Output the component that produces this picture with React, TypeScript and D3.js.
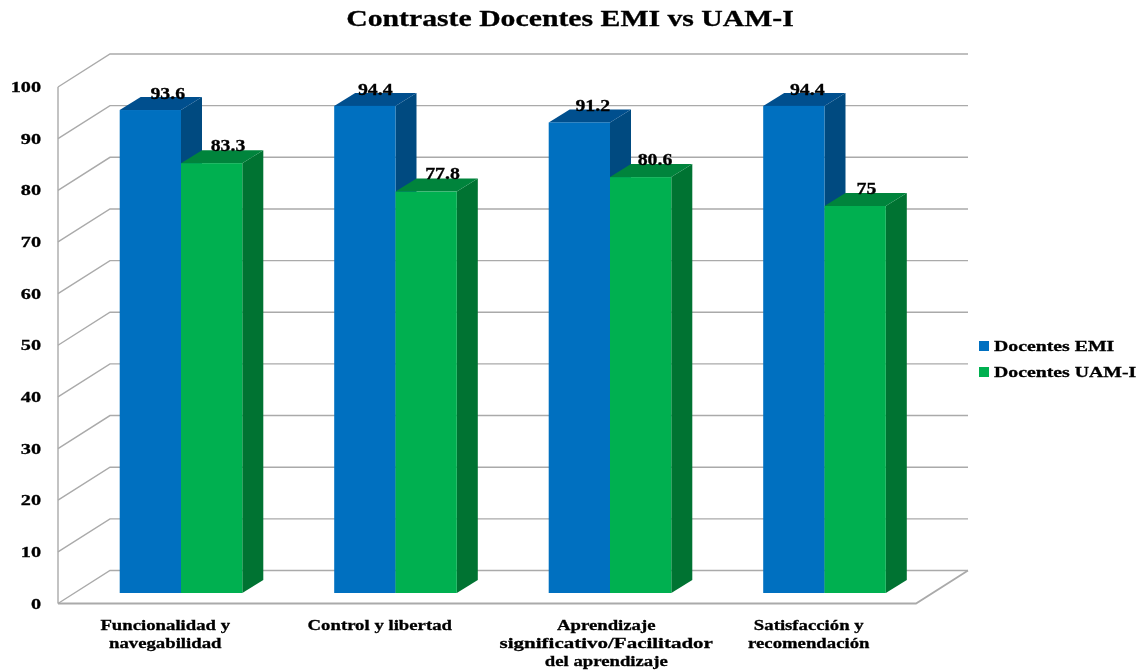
import React from "react";
import * as d3 from "d3";

const title = "Contraste Docentes EMI vs UAM-I";
const seriesNames = ["Docentes EMI", "Docentes UAM-I"];
const categories = [
  ["Funcionalidad y", "navegabilidad"],
  ["Control y libertad"],
  ["Aprendizaje", "significativo/Facilitador", "del aprendizaje"],
  ["Satisfacción y", "recomendación"],
];
const docentesEMI = [93.6, 94.4, 91.2, 94.4];
const docentesUAM = [83.3, 77.8, 80.6, 75];
const valueLabelsEMI = ["93.6", "94.4", "91.2", "94.4"];
const valueLabelsUAM = ["83.3", "77.8", "80.6", "75"];
const yTicks = [0, 10, 20, 30, 40, 50, 60, 70, 80, 90, 100];
const labelNudge = [0, 0, 12, 0];
const labelOffsetEMI = [48, 41, 44, 44];
const labelOffsetUAM = [47, 47, 45, 42];

const W = 1147, H = 671;
const wallDx = 52, wallDy = -33;
const barDx = 21, barDy = -13;
const font = "'Liberation Serif', serif";

const yFront = d3.scaleLinear().domain([0, 100]).range([603.5, 87]);
const yBar = d3.scaleLinear().domain([0, 100]).range([593, 77]);
const xBand = d3.scaleBand<number>().domain([0, 1, 2, 3]).range([58, 916]);
const barW = 61.3;

const pts = (a: [number, number][]) => a.map((p) => p.join(",")).join(" ");

function Bar({ x, value, front, top, side }: any) {
  const y0 = yBar(0), y1 = yBar(value);
  return (
    <g>
      <polygon points={pts([[x + barW, y1], [x + barW + barDx, y1 + barDy], [x + barW + barDx, y0 + barDy], [x + barW, y0]])} fill={side} />
      <polygon points={pts([[x, y1], [x + barDx, y1 + barDy], [x + barW + barDx, y1 + barDy], [x + barW, y1]])} fill={top} />
      <rect x={x} y={y1} width={barW} height={y0 - y1} fill={front} />
    </g>
  );
}

function ST({ x, y, sx = 1.25, size, anchor = "middle", children }: any) {
  return (
    <text transform={`translate(${x},${y}) scale(${sx},1)`} textAnchor={anchor} fontFamily={font} fontWeight="bold" fontSize={size} fill="#050505" stroke="#050505" strokeWidth={0.3} filter="url(#soft)">
      {children}
    </text>
  );
}

export default function App() {
  const grid = "#aaaaaa";
  return (
    <svg width={W} height={H} style={{ position: "absolute", left: 0, top: 0, background: "#fff" }}>
      <defs>
        <filter id="soft" x="-5%" y="-20%" width="110%" height="140%">
          <feGaussianBlur stdDeviation="0.3" />
        </filter>
      </defs>
      <ST x={570} y={26} size={24} sx={1.24}>{title}</ST>

      {yTicks.map((t) => (
        <g key={t}>
          <polyline points={pts([[58, yFront(t)], [58 + wallDx, yFront(t) + wallDy], [968, yFront(t) + wallDy]])} fill="none" stroke={grid} strokeWidth={1.4} />
          <ST x={41} y={yFront(t) + 5} size={15} anchor="end" sx={1.35}>{t}</ST>
        </g>
      ))}
      <line x1={58} x2={58} y1={yFront(0)} y2={yFront(100)} stroke={grid} strokeWidth={1.4} />
      <polyline points={pts([[58, yFront(0)], [916, yFront(0)], [968, yFront(0) + wallDy]])} fill="none" stroke={grid} strokeWidth={1.8} />

      {categories.map((_, i) => {
        const x = (xBand(i) as number) + 61.7;
        return (
          <g key={i}>
            <Bar x={x} value={docentesEMI[i]} front="#0070c0" top="#004f8e" side="#004a80" />
            <Bar x={x + barW} value={docentesUAM[i]} front="#00b050" top="#00843c" side="#007332" />
          </g>
        );
      })}

      {categories.map((_, i) => {
        const x = (xBand(i) as number) + 61.7;
        return (
          <g key={i}>
            <ST x={x + labelOffsetEMI[i]} y={yBar(docentesEMI[i]) - 11} size={16.5} sx={1.2}>{valueLabelsEMI[i]}</ST>
            <ST x={x + barW + labelOffsetUAM[i]} y={yBar(docentesUAM[i]) - 12.5} size={16.5} sx={1.2}>{valueLabelsUAM[i]}</ST>
          </g>
        );
      })}

      {categories.map((lines, i) => {
        const cx = (xBand(i) as number) + xBand.bandwidth() / 2 + labelNudge[i];
        return lines.map((l, j) => (
          <ST key={l} x={cx} y={630 + j * 18} size={15} sx={l.startsWith("significativo") ? 1.4 : 1.25}>{l}</ST>
        ));
      })}

      {seriesNames.map((n, i) => (
        <g key={n}>
          <rect x={979} y={341 + i * 26} width={10} height={10} fill={i === 0 ? "#0070c0" : "#00b050"} />
          <ST x={994} y={351 + i * 26} size={15} anchor="start" sx={1.32}>{n}</ST>
        </g>
      ))}
    </svg>
  );
}
